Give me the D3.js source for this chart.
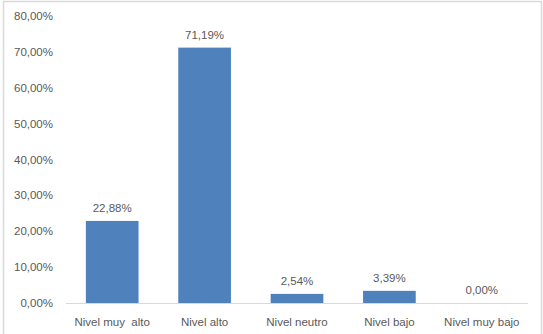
<!doctype html>
<html lang="es">
    <head>
        <meta charset="utf-8">
        <script src="https://cdn.jsdelivr.net/npm/d3@7"></script>
        <style>
            body { margin: 0; background: #fff; }
            text { font-family: "Liberation Sans", Arial, sans-serif; fill: #595959; }
        </style>
    </head>
    <body>
        <script>
            var categories = ["Nivel muy  alto", "Nivel alto", "Nivel neutro", "Nivel bajo", "Nivel muy bajo"];
            var values = [22.88, 71.19, 2.54, 3.39, 0.00];
            var valueLabels = ["22,88%", "71,19%", "2,54%", "3,39%", "0,00%"];
            var ticks = [0, 10, 20, 30, 40, 50, 60, 70, 80];

            var W = 543, H = 334;
            var margin = {top: 16, right: 15, bottom: 31, left: 66};

            var svg = d3.select("body").append("svg")
                        .attr("width", W)
                        .attr("height", H);

            // outer chart border
            svg.append("rect")
               .attr("x", 3.5).attr("y", 1.5)
               .attr("width", 538).attr("height", 340)
               .attr("fill", "none")
               .attr("stroke", "#d9d9d9")
               .attr("stroke-width", 1.5);

            var xScale = d3.scaleBand()
                           .domain(categories)
                           .range([margin.left, W - margin.right])
                           .paddingInner(0.43)
                           .paddingOuter(0.215);

            var yScale = d3.scaleLinear()
                           .domain([0, 80])
                           .range([H - margin.bottom, margin.top]);

            var fmt = v => v.toFixed(2).replace(".", ",") + "%";

            // y tick labels
            svg.append("g")
               .selectAll("text")
               .data(ticks)
               .enter()
               .append("text")
               .attr("x", 53)
               .attr("y", d => yScale(d))
               .attr("dy", "0.35em")
               .attr("text-anchor", "end")
               .style("font-size", "11.5px")
               .text(d => fmt(d));

            // baseline
            svg.append("line")
               .attr("x1", margin.left).attr("x2", W - margin.right)
               .attr("y1", yScale(0) + 0.5).attr("y2", yScale(0) + 0.5)
               .attr("stroke", "#d9d9d9")
               .attr("stroke-width", 1);

            svg.selectAll("rect.bar")
               .data(values)
               .enter()
               .append("rect")
               .attr("class", "bar")
               .attr("x", (_, i) => xScale(categories[i]))
               .attr("y", d => yScale(d))
               .attr("width", xScale.bandwidth())
               .attr("height", d => yScale(0) - yScale(d))
               .attr("fill", "#4f81bd");

            svg.selectAll("text.val")
               .data(values)
               .enter()
               .append("text")
               .attr("class", "val")
               .attr("x", (_, i) => xScale(categories[i]) + xScale.bandwidth() / 2)
               .attr("y", d => yScale(d) - 9)
               .attr("text-anchor", "middle")
               .style("font-size", "11.5px")
               .text((_, i) => valueLabels[i]);

            svg.selectAll("text.cat")
               .data(categories)
               .enter()
               .append("text")
               .attr("class", "cat")
               .attr("x", d => xScale(d) + xScale.bandwidth() / 2)
               .attr("y", 326)
               .attr("text-anchor", "middle")
               .style("font-size", "11.5px")
               .style("white-space", "pre")
               .text(d => d);
        </script>
    </body>
</html>
